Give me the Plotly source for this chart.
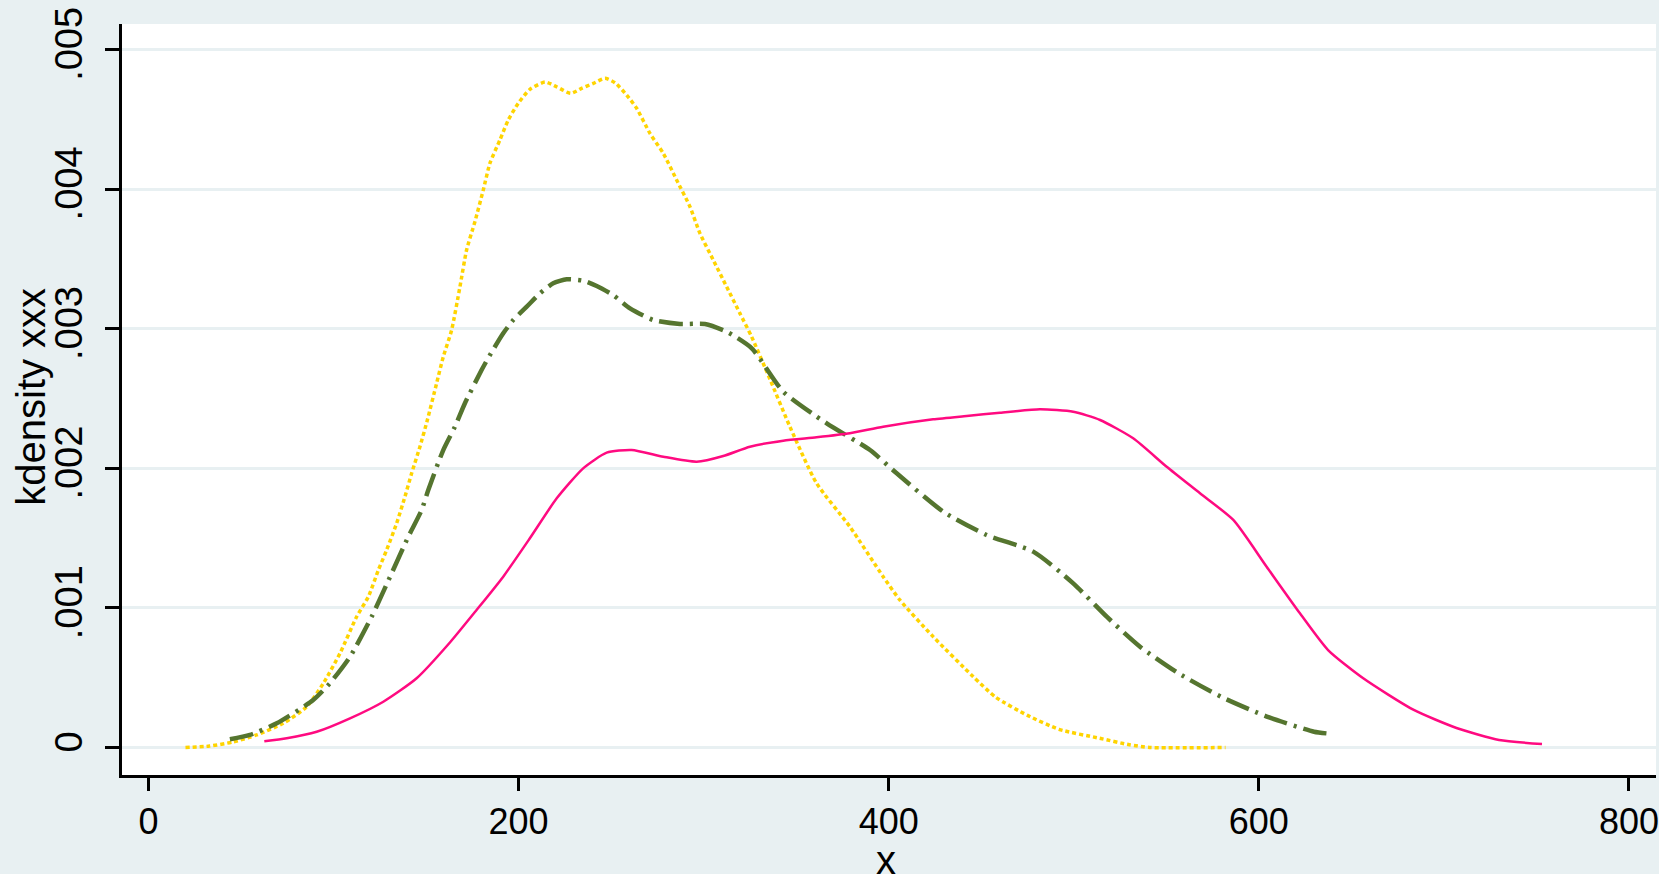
import plotly.graph_objects as go

# Kernel density estimates of xxx for three groups
gold_x = [20, 33, 45.8, 58.5, 72.8, 85.5, 94.5, 103.5, 112.5, 118.8, 124.2, 128.7, 134.1,
          138.6, 142.2, 146.7, 150.7, 155.7, 159.3, 163.8, 168.3, 171.9, 176.4, 180.9,
          184.5, 189.9, 194.4, 199.8, 206.1, 214.3, 220.6, 228.1, 234, 240.4, 246.7,
          252.1, 258.4, 263.8, 271, 278.2, 285.4, 292.6, 298, 305.2, 312.4, 319.6, 325.9,
          336, 346.6, 361, 379, 397, 406, 424, 445.7, 457.8, 475, 492, 514, 530, 541, 582]
gold_y = [0, 0.00001, 0.00004, 0.00009, 0.000173, 0.000292, 0.00046, 0.000675, 0.000937,
          0.00108, 0.00127, 0.001415, 0.001606, 0.001797, 0.001964, 0.002155, 0.002346,
          0.002609, 0.002799, 0.00299, 0.0033, 0.003564, 0.003767, 0.003993, 0.004185,
          0.004352, 0.004495, 0.004615, 0.004715, 0.004767, 0.004733, 0.004686, 0.004722,
          0.004758, 0.004794, 0.004762, 0.004674, 0.004579, 0.004399, 0.004256, 0.004065,
          0.003874, 0.003683, 0.003492, 0.003301, 0.00311, 0.002943, 0.002633, 0.002298,
          0.001893, 0.001582, 0.001224, 0.001057, 0.000794, 0.000507, 0.00036, 0.00023,
          0.00013, 0.000066, 0.00002, 0, 0]

green_x = [44, 54.8, 69.3, 89, 98, 108.9, 120.6, 131.4, 140.4, 147.6, 151.2, 159.3, 165.6,
           171, 180, 184.5, 191.7, 197.1, 204.4, 211.6, 218.7, 226, 234.9, 242.2, 251.1,
           260.2, 272.8, 287.2, 300.7, 312.4, 326, 343, 366.5, 389.9, 404.3, 429.5, 452.9,
           478.1, 499.7, 517.8, 535.8, 556.3, 579.5, 604.7, 629.8, 637.4]
green_y = [0.000059, 0.00009, 0.000173, 0.00034, 0.00046, 0.00065, 0.000937, 0.001248,
           0.00151, 0.001701, 0.001845, 0.002131, 0.002298, 0.002466, 0.002704, 0.002811,
           0.002967, 0.003062, 0.003158, 0.003254, 0.003325, 0.003354, 0.003344, 0.003306,
           0.003241, 0.003146, 0.003062, 0.003034, 0.003034, 0.002979, 0.00286, 0.002549,
           0.002322, 0.002131, 0.001964, 0.001689, 0.001522, 0.001403, 0.001176, 0.000937,
           0.000722, 0.000534, 0.000364, 0.00022, 0.000113, 0.0001]

pink_x = [62.6, 74.7, 90.9, 108.9, 126.9, 144.9, 163, 177.3, 191.7, 206.1, 220.6, 234.9,
          247.6, 261.1, 278.2, 296.2, 310.6, 325, 343, 361, 379, 397, 424, 442.1, 460.1,
          481.7, 499.7, 514.2, 532.1, 550.2, 568.2, 586.2, 604.2, 622.2, 637.4, 656.4,
          683.7, 706.8, 729.8, 753]
pink_y = [0.000044, 0.000066, 0.000113, 0.000209, 0.000328, 0.000496, 0.000754, 0.000985,
          0.001224, 0.001499, 0.001785, 0.002, 0.002112, 0.002131, 0.002083, 0.002047,
          0.002088, 0.002155, 0.002198, 0.002222, 0.002251, 0.002298, 0.002351, 0.002375,
          0.002398, 0.002423, 0.002405, 0.002346, 0.002215, 0.002011, 0.001821, 0.00163,
          0.001295, 0.000961, 0.000698, 0.000496, 0.000269, 0.00014, 0.000054, 0.000025]

x_ticks = [0, 200, 400, 600, 800]
y_ticks = [0, 0.001, 0.002, 0.003, 0.004, 0.005]
y_tick_text = ["0", ".001", ".002", ".003", ".004", ".005"]

BG = "#E8F0F2"
FONT = "Liberation Sans, Arial, sans-serif"

fig = go.Figure()
fig.add_trace(go.Scatter(x=gold_x, y=gold_y, mode="lines",
                         line=dict(color="#FFD400", width=3.5, dash="4px,3px",
                                   shape="spline", smoothing=0.6)))
fig.add_trace(go.Scatter(x=green_x, y=green_y, mode="lines",
                         line=dict(color="#55752F", width=4.5, dash="24px,7px,3px,7px",
                                   shape="spline", smoothing=0.6)))
fig.add_trace(go.Scatter(x=pink_x, y=pink_y, mode="lines",
                         line=dict(color="#FF0A80", width=2.5,
                                   shape="spline", smoothing=0.6)))

fig.update_layout(
    width=1659, height=874,
    margin=dict(l=122, r=3, t=24, b=99, autoexpand=False),
    paper_bgcolor=BG, plot_bgcolor="white",
    showlegend=False,
    font=dict(family=FONT, size=38, color="black"),
    xaxis=dict(range=[-14.3, 814.6], tickvals=x_ticks, ticks="outside", ticklen=13,
               tickwidth=2.5, tickcolor="black", showline=True, linecolor="black",
               linewidth=2.5, showgrid=False, zeroline=False,
               ticklabeloverflow="allow", tickfont=dict(size=36)),
    yaxis=dict(range=[-0.000197, 0.005183], tickvals=y_ticks, ticktext=y_tick_text,
               tickangle=-90, ticks="outside", ticklen=14, tickwidth=2.5,
               tickcolor="black", showline=True, linecolor="black", linewidth=2.5,
               showgrid=True, gridcolor=BG, gridwidth=3, zeroline=False,
               ticklabelstandoff=8, tickfont=dict(size=38)),
    annotations=[
        dict(text="kdensity xxx", textangle=-90, xref="paper", yref="paper",
             x=-0.0595, y=0.5033, xanchor="center", yanchor="middle",
             showarrow=False, font=dict(size=40)),
        dict(text="x", xref="paper", yref="paper", x=0.498, y=-0.1132,
             xanchor="center", yanchor="middle", showarrow=False,
             font=dict(size=40)),
    ],
)

fig.write_html("out.html")
